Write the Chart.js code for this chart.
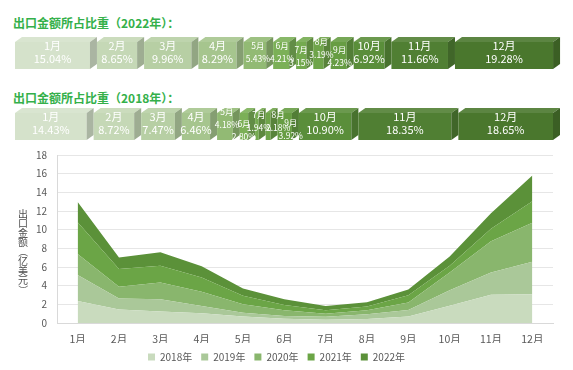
<!DOCTYPE html>
<html>
<head>
<meta charset="utf-8">
<script src="https://cdn.jsdelivr.net/npm/chart.js@4/dist/chart.umd.min.js"></script>
<style>
  body { margin: 0; background: #fff; font-family: "Noto Sans CJK SC", sans-serif; }
  #wrap { position: relative; width: 573px; height: 370px; overflow: hidden; }
  .ttl { position: absolute; left: 13px; color: #34b04a; font-weight: bold; font-size: 12px; line-height: 14px; white-space: nowrap; }
  .box { position: absolute; left: 0; width: 573px; }
</style>
</head>
<body>
<div id="wrap">
  <div class="ttl" style="top:16px">出口金额所占比重（2022年）：</div>
  <div class="box" style="top:37px;height:32px"><canvas id="share22"></canvas></div>
  <div class="ttl" style="top:91px">出口金额所占比重（2018年）：</div>
  <div class="box" style="top:108px;height:32px"><canvas id="share18"></canvas></div>
  <div class="box" style="top:139px;height:233px"><canvas id="area"></canvas></div>
</div>

<script>
// data
const months = ['1月', '2月', '3月', '4月', '5月', '6月', '7月', '8月', '9月', '10月', '11月', '12月'];

// share of yearly export per month (%)
const share2022 = [15.04, 8.65, 9.96, 8.29, 5.43, 4.21, 3.15, 3.19, 4.23, 6.92, 11.66, 19.28];
const share2018 = [14.43, 8.72, 7.47, 6.46, 4.18, 2.80, 1.94, 2.18, 3.92, 10.90, 18.35, 18.65];

// monthly export (亿美元), one layer per year
const years = ['2018年', '2019年', '2020年', '2021年', '2022年'];
const export2018 = [2.37, 1.45, 1.23, 1.05, 0.69, 0.46, 0.36, 0.42, 0.70, 1.85, 3.02, 3.08];
const export2019 = [2.77, 1.17, 1.32, 0.78, 0.42, 0.29, 0.32, 0.52, 0.70, 1.67, 2.40, 3.49];
const export2020 = [2.26, 1.26, 1.79, 1.51, 0.90, 0.62, 0.32, 0.43, 0.79, 1.90, 3.34, 4.17];
const export2021 = [3.40, 1.90, 1.80, 1.54, 0.90, 0.57, 0.37, 0.39, 0.79, 0.72, 1.33, 2.30];
const export2022 = [2.16, 1.24, 1.43, 1.19, 0.78, 0.60, 0.45, 0.46, 0.61, 0.99, 1.67, 2.77];

const yTicks = [0, 2, 4, 6, 8, 10, 12, 14, 16, 18];
const yTitle = '出口金额（亿美元）';

// styling
const blockColors = ['#d5e2cb', '#c5d8b6', '#b7cfa4', '#a6c58e', '#92ba74', '#7bb057', '#74aa4f', '#6ea449', '#679d43', '#5a8e3a', '#507f33', '#4a772d'];
const areaColors = ['#c9dbbe', '#aac899', '#89b66d', '#6ba546', '#5b9139'];
const FONT = '"Noto Sans CJK SC", sans-serif';

function shade(hex, amt) {
    let r = parseInt(hex.slice(1, 3), 16), g = parseInt(hex.slice(3, 5), 16), b = parseInt(hex.slice(5, 7), 16);
    const t = amt < 0 ? 0 : 255, p = Math.abs(amt);
    r = Math.round(r + (t - r) * p); g = Math.round(g + (t - g) * p); b = Math.round(b + (t - b) * p);
    return `rgb(${r},${g},${b})`;
}

// draws each stacked bar as a 3D block with its month/percent label
const block3d = {
    id: 'block3d',
    beforeDatasetsDraw(chart, args, opts) {
        const ctx = chart.ctx;
        const dx = 7, dy = 5;
        chart.data.datasets.forEach((ds, i) => {
            const bar = chart.getDatasetMeta(i).data[0];
            const x0 = bar.base, x1 = bar.x;
            const y0 = bar.y - bar.height / 2, y1 = bar.y + bar.height / 2;
            const c = ds.backgroundColor;

            ctx.fillStyle = c;
            ctx.fillRect(x0, y0 + dy, x1 - dx - x0, y1 - y0 - dy);

            ctx.fillStyle = shade(c, 0.1);
            ctx.beginPath();
            ctx.moveTo(x0, y0 + dy); ctx.lineTo(x0 + dx, y0); ctx.lineTo(x1, y0); ctx.lineTo(x1 - dx, y0 + dy);
            ctx.closePath(); ctx.fill();

            ctx.fillStyle = shade(c, -0.2);
            ctx.beginPath();
            ctx.moveTo(x1 - dx, y0 + dy); ctx.lineTo(x1, y0); ctx.lineTo(x1, y1 - dy); ctx.lineTo(x1 - dx, y1);
            ctx.closePath(); ctx.fill();
        });
        chart.data.datasets.forEach((ds, i) => {
            const bar = chart.getDatasetMeta(i).data[0];
            const v = ds.data[0];
            const small = v < 6;
            const nudge = (opts.nudge && opts.nudge[i]) || [0, 0];
            const cx = (bar.base + bar.x - dx) / 2 + nudge[0];
            const cy = bar.y + nudge[1];
            ctx.fillStyle = '#ffffff';
            ctx.textAlign = 'center';
            ctx.textBaseline = 'middle';
            ctx.font = (small ? '8.5px ' : '11px ') + FONT;
            ctx.fillText(ds.label, cx, cy - 7);
            ctx.fillText(v.toFixed(2) + '%', cx, cy + 6);
        });
        return false;
    }
};

// vertical (upright) axis title, brackets turned sideways
const verticalTitle = {
    id: 'verticalTitle',
    afterDraw(chart, args, opts) {
        const ctx = chart.ctx;
        const top = chart.canvas.getBoundingClientRect().top;
        const chars = [...opts.text];
        let y = opts.y - top;
        ctx.save();
        ctx.fillStyle = '#505050';
        ctx.font = '10px ' + FONT;
        ctx.textAlign = 'center';
        ctx.textBaseline = 'middle';
        chars.forEach(ch => {
            if (ch === '（' || ch === '）') {
                ctx.save();
                ctx.translate(opts.x, y);
                ctx.rotate(Math.PI / 2);
                ctx.fillText(ch, 0, 0);
                ctx.restore();
            } else {
                ctx.fillText(ch, opts.x, y);
            }
            y += opts.step;
        });
        ctx.restore();
    }
};

function shareChart(id, shares, nudge) {
    return new Chart(document.getElementById(id), {
        type: 'bar',
        data: {
            labels: [''],
            datasets: months.map((m, i) => ({
                label: m,
                data: [shares[i]],
                backgroundColor: blockColors[i],
                barPercentage: 1,
                categoryPercentage: 1
            }))
        },
        options: {
            indexAxis: 'y',
            responsive: true,
            maintainAspectRatio: false,
            animation: false,
            layout: { padding: { left: 15, right: 13, top: 0, bottom: 0 } },
            scales: {
                x: { stacked: true, min: 0, max: 100, display: false },
                y: { stacked: true, display: false }
            },
            plugins: {
                legend: { display: false },
                tooltip: { enabled: false },
                block3d: { nudge: nudge }
            }
        },
        plugins: [block3d]
    });
}

shareChart('share22', share2022, { 4: [3, 0], 5: [1, 0], 6: [0, 4], 7: [3, -4], 8: [1, 4] });
shareChart('share18', share2018, { 4: [2, -5], 5: [0, 7], 6: [2, -2], 7: [10, -2], 8: [6, 6] });

const areaSeries = [export2018, export2019, export2020, export2021, export2022];

new Chart(document.getElementById('area'), {
    type: 'line',
    data: {
        labels: months,
        datasets: years.map((y, i) => ({
            label: y,
            data: areaSeries[i],
            backgroundColor: areaColors[i],
            borderColor: areaColors[i],
            borderWidth: 0,
            pointRadius: 0,
            tension: 0,
            fill: i === 0 ? 'origin' : '-1'
        }))
    },
    options: {
        responsive: true,
        maintainAspectRatio: false,
        animation: false,
        layout: { padding: { left: 0, right: 20, top: 3, bottom: 0 } },
        scales: {
            x: {
                offset: true,
                grid: { display: false, drawTicks: false },
                border: { color: '#d9d9d9' },
                ticks: { color: '#595959', font: { family: FONT, size: 10.5 }, padding: 10, maxRotation: 0 },
                afterFit: s => { s.height = 20; }
            },
            y: {
                stacked: true,
                min: 0,
                max: 18,
                afterBuildTicks: s => { s.ticks = yTicks.map(v => ({ value: v })); },
                grid: { color: '#e6e6e6', drawTicks: false },
                border: { color: '#d9d9d9' },
                ticks: { color: '#595959', font: { family: FONT, size: 10 }, padding: 10 },
                afterFit: s => { s.width = 57; }
            }
        },
        plugins: {
            legend: {
                position: 'bottom',
                labels: {
                    boxWidth: 7,
                    boxHeight: 7,
                    padding: 9,
                    color: '#595959',
                    font: { family: FONT, size: 10 }
                }
            },
            tooltip: { enabled: false },
            verticalTitle: { text: yTitle, x: 23, y: 214, step: 9.5 }
        }
    },
    plugins: [verticalTitle]
});
</script>
</body>
</html>
